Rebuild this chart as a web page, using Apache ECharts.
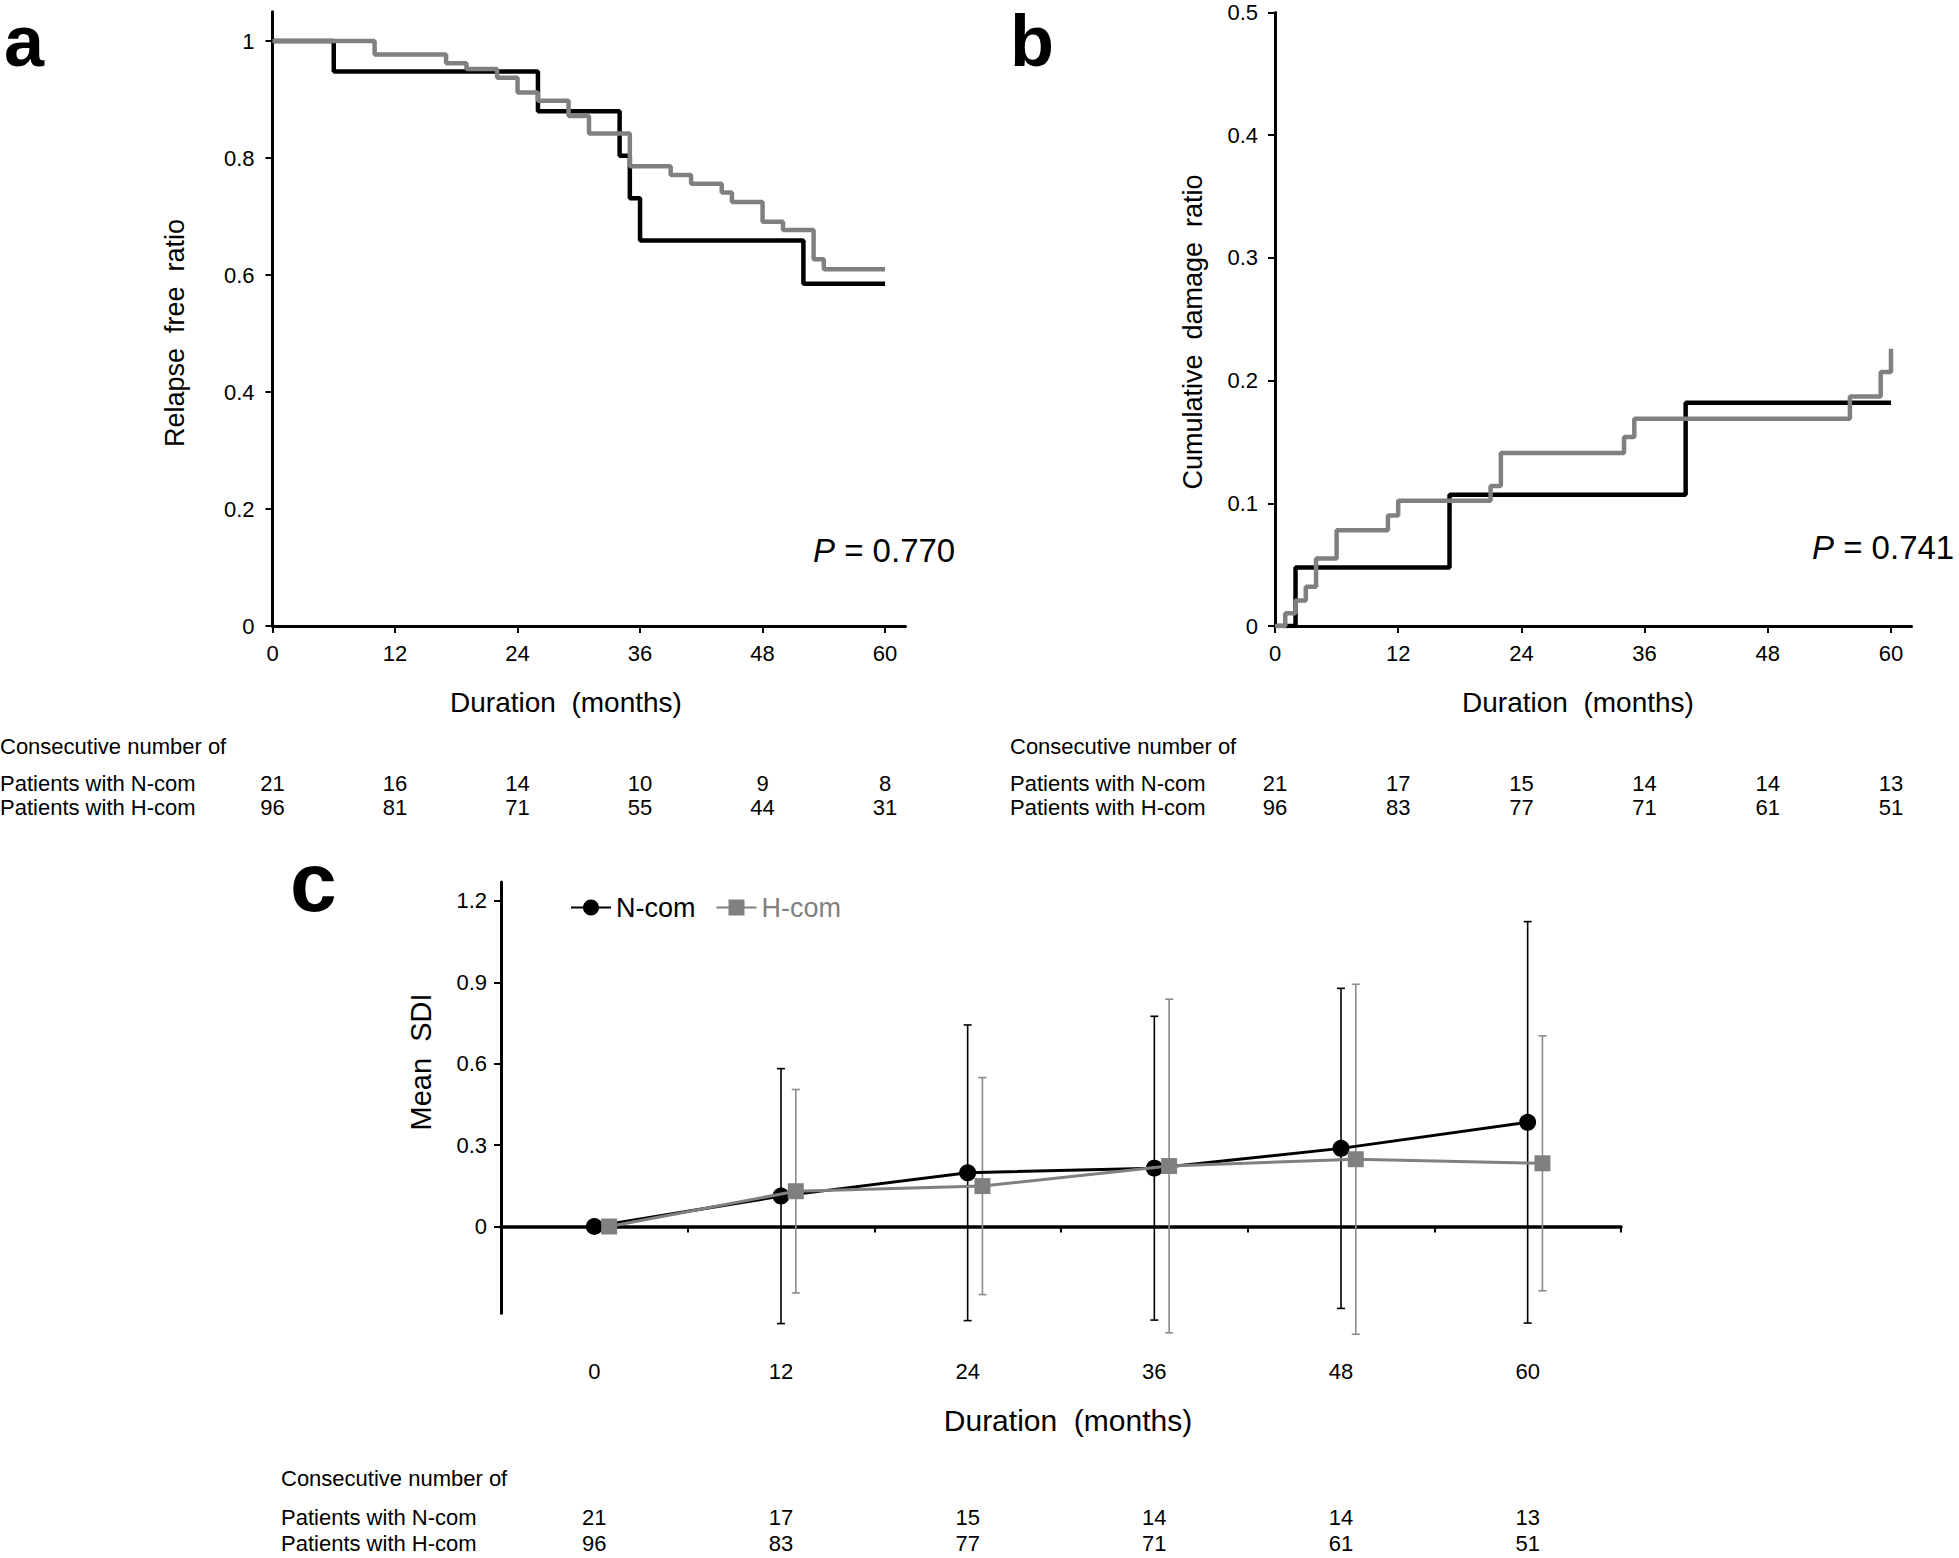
<!DOCTYPE html>
<html>
<head>
<meta charset="utf-8">
<script src="https://cdn.jsdelivr.net/npm/echarts@6/dist/echarts.min.js"></script>
<style>
html,body{margin:0;padding:0;background:#ffffff;}
#chart{width:1959px;height:1558px;}
</style>
</head>
<body>
<div id="chart"></div>
<script>
// ================= DATA =================
const monthTicks = [0, 12, 24, 36, 48, 60];

// Panel a: relapse-free ratio (Kaplan-Meier steps)
const relapseNTime  = [0, 6, 26, 34, 35, 36, 52, 60];
const relapseNValue = [1, 0.948, 0.880, 0.804, 0.731, 0.659, 0.585, 0.585];
const relapseHTime  = [0, 10, 17, 19, 22, 24, 26, 29, 31, 35, 39, 41, 44, 45, 48, 50, 53, 54, 60];
const relapseHValue = [1, 0.977, 0.962, 0.952, 0.937, 0.912, 0.898, 0.872, 0.842, 0.786, 0.771, 0.756, 0.741, 0.725, 0.691, 0.677, 0.627, 0.610, 0.610];
const relapseAtRiskN = [21, 16, 14, 10, 9, 8];
const relapseAtRiskH = [96, 81, 71, 55, 44, 31];
const relapseP = '0.770';

// Panel b: cumulative damage ratio (Kaplan-Meier steps)
const damageNTime  = [0, 2, 17, 40, 60];
const damageNValue = [0, 0.0476, 0.107, 0.182, 0.182];
const damageHTime  = [0, 1, 2, 3, 4, 6, 11, 12, 21, 22, 34, 35, 56, 59, 60];
const damageHValue = [0, 0.0104, 0.0207, 0.032, 0.055, 0.078, 0.090, 0.102, 0.114, 0.141, 0.154, 0.169, 0.187, 0.207, 0.226];
const damageAtRiskN = [21, 17, 15, 14, 14, 13];
const damageAtRiskH = [96, 83, 77, 71, 61, 51];
const damageP = '0.741';

// Panel c: mean SDI with SD error bars
const sdiNMean = [0, 0.112, 0.198, 0.215, 0.288, 0.384];
const sdiNSD   = [0, 0.47, 0.545, 0.56, 0.59, 0.74];
const sdiHMean = [0, 0.130, 0.149, 0.223, 0.248, 0.233];
const sdiHSD   = [0, 0.375, 0.40, 0.615, 0.645, 0.47];
const sdiPMonths = [12, 24, 36, 48, 60];
const sdiP = ['0.509', '0.986', '0.846', '0.741', '0.737'];
const sdiAtRiskN = [21, 17, 15, 14, 14, 13];
const sdiAtRiskH = [96, 83, 77, 71, 61, 51];

// ================= LAYOUT / STYLE =================
const FONT = '"Liberation Sans", Arial, Helvetica, sans-serif';
const BLACK = '#000000';
const GRAY = '#808080';
const GRAY_BAR = '#8c8c8c';
const TICK_FONT = 22;
const TABLE_FONT = 22;
const H_SHIFT = 0.95;               // horizontal offset of H-com markers (months)
const pLabelLevel = [0.715, 0.849, 0.951, 1.015, 1.211]; // label heights (data units)

const zip = (xs, ys) => xs.map((x, i) => [x, ys[i]]);
const fmtNum = v => String(+Number(v).toFixed(2));

function mainX(gridIndex, min, max, tickVals, labelMargin, onZero) {
  return {
    type: 'value', gridIndex, min, max,
    axisLine: { show: true, onZero: !!onZero, lineStyle: { color: BLACK, width: 3 } },
    axisTick: { show: true, customValues: tickVals, length: 7, lineStyle: { color: BLACK, width: 2 } },
    axisLabel: { show: true, customValues: monthTicks, margin: labelMargin, fontSize: TICK_FONT,
                 color: BLACK, fontFamily: FONT, formatter: v => fmtNum(v) },
    splitLine: { show: false }
  };
}
function countX(gridIndex, min, max, counts, margin) {
  return {
    type: 'value', gridIndex, min, max, position: 'bottom',
    axisLine: { show: false, onZero: false }, axisTick: { show: false }, splitLine: { show: false },
    axisLabel: { show: true, customValues: monthTicks, margin, fontSize: TABLE_FONT, color: BLACK,
                 fontFamily: FONT, formatter: v => String(counts[Math.round(v / 12)]) }
  };
}
function mainY(gridIndex, min, max, ticks, margin) {
  return {
    type: 'value', gridIndex, min, max,
    axisLine: { show: true, onZero: false, lineStyle: { color: BLACK, width: 3 } },
    axisTick: { show: true, customValues: ticks, length: 7, lineStyle: { color: BLACK, width: 2 } },
    axisLabel: { show: true, customValues: ticks, margin, fontSize: TICK_FONT, color: BLACK,
                 fontFamily: FONT, formatter: v => fmtNum(v) },
    splitLine: { show: false }
  };
}
function kmLine(name, xi, yi, data, color) {
  return { type: 'line', name, xAxisIndex: xi, yAxisIndex: yi, step: 'end', symbol: 'none',
           data, lineStyle: { color, width: 4.5 }, itemStyle: { color }, silent: true, z: 3 };
}
function errorBars(name, data, color) {
  return {
    type: 'custom', name, xAxisIndex: 6, yAxisIndex: 2, data, z: 1, silent: true,
    encode: { x: 0, y: 1 },
    renderItem: function (params, api) {
      const x = api.value(0), m = api.value(1), s = api.value(2);
      if (!(s > 0)) return null;
      const top = api.coord([x, m + s]);
      const bot = api.coord([x, m - s]);
      const hw = 4;
      const style = { stroke: color, lineWidth: 1.6, fill: null };
      return { type: 'group', children: [
        { type: 'line', shape: { x1: top[0], y1: top[1], x2: bot[0], y2: bot[1] }, style },
        { type: 'line', shape: { x1: top[0] - hw, y1: top[1], x2: top[0] + hw, y2: top[1] }, style },
        { type: 'line', shape: { x1: bot[0] - hw, y1: bot[1], x2: bot[0] + hw, y2: bot[1] }, style }
      ]};
    }
  };
}
function txt(x, y, text, size, opts) {
  opts = opts || {};
  return {
    type: 'text', x, y, rotation: opts.rotation || 0, silent: true,
    style: {
      text, fill: opts.fill || BLACK, fontSize: size, fontFamily: FONT,
      fontWeight: opts.weight || 'normal',
      align: opts.align || 'left', textAlign: opts.align || 'left',
      verticalAlign: 'middle', textVerticalAlign: 'middle',
      rich: opts.rich
    }
  };
}
const pRich = size => ({ i: { fontStyle: 'italic', fontSize: size, fontFamily: FONT, fill: BLACK, color: BLACK } });

// ================= OPTION =================
const option = {
  animation: false,
  backgroundColor: '#ffffff',
  textStyle: { fontFamily: FONT },
  grid: [
    { left: 272.5, top: 11.75, width: 633, height: 614.25 },   // a
    { left: 1275, top: 12.5, width: 636.5, height: 613.5 },    // b
    { left: 501, top: 882, width: 1120, height: 431.3 }        // c
  ],
  xAxis: [
    mainX(0, 0, 62, monthTicks, 16, false),
    countX(0, 0, 62, relapseAtRiskN, 146),
    countX(0, 0, 62, relapseAtRiskH, 170),
    mainX(1, 0, 62, monthTicks, 16, false),
    countX(1, 0, 62, damageAtRiskN, 146),
    countX(1, 0, 62, damageAtRiskH, 170),
    (function () {
      const ax = mainX(2, -6, 66, [6, 18, 30, 42, 54, 66], 47, true);
      ax.axisLine.lineStyle.width = 3.5;
      ax.axisTick.length = 6;
      return ax;
    })(),
    countX(2, -6, 66, sdiAtRiskN, 193),
    countX(2, -6, 66, sdiAtRiskH, 219)
  ],
  yAxis: [
    mainY(0, 0, 1.05, [0, 0.2, 0.4, 0.6, 0.8, 1], 18),
    mainY(1, 0, 0.5, [0, 0.1, 0.2, 0.3, 0.4, 0.5], 17),
    mainY(2, -0.32, 1.27, [0, 0.3, 0.6, 0.9, 1.2], 14)
  ],
  legend: {
    left: 565, top: 889, itemWidth: 40, itemHeight: 20, itemGap: 20,
    selectedMode: false,
    textStyle: { fontSize: 27, fontFamily: FONT },
    data: [
      { name: 'N-com', textStyle: { color: BLACK } },
      { name: 'H-com', textStyle: { color: GRAY } }
    ]
  },
  series: [
    kmLine('N-com relapse', 0, 0, zip(relapseNTime, relapseNValue), BLACK),
    kmLine('H-com relapse', 0, 0, zip(relapseHTime, relapseHValue), GRAY),
    kmLine('N-com damage', 3, 1, zip(damageNTime, damageNValue), BLACK),
    kmLine('H-com damage', 3, 1, zip(damageHTime, damageHValue), GRAY),
    errorBars('N-com SD', monthTicks.map((m, i) => [m, sdiNMean[i], sdiNSD[i]]), BLACK),
    errorBars('H-com SD', monthTicks.map((m, i) => [m + H_SHIFT, sdiHMean[i], sdiHSD[i]]), GRAY_BAR),
    {
      type: 'line', name: 'N-com', xAxisIndex: 6, yAxisIndex: 2,
      data: monthTicks.map((m, i) => [m, sdiNMean[i]]),
      symbol: 'circle', symbolSize: 17, showAllSymbol: true,
      lineStyle: { color: BLACK, width: 3 }, itemStyle: { color: BLACK }, z: 3
    },
    {
      type: 'line', name: 'H-com', xAxisIndex: 6, yAxisIndex: 2,
      data: monthTicks.map((m, i) => [m + H_SHIFT, sdiHMean[i]]),
      symbol: 'rect', symbolSize: 16, showAllSymbol: true,
      lineStyle: { color: GRAY, width: 3 }, itemStyle: { color: GRAY }, z: 4
    },
    {
      type: 'scatter', name: 'P values', xAxisIndex: 6, yAxisIndex: 2, silent: true,
      data: sdiPMonths.map((m, i) => [m, pLabelLevel[i]]),
      symbol: 'circle', symbolSize: 1, itemStyle: { opacity: 0 },
      label: {
        show: true, position: 'inside', color: BLACK, fontSize: 18, fontFamily: FONT,
        formatter: p => '{i|P} = ' + sdiP[p.dataIndex],
        rich: { i: { fontStyle: 'italic', fontSize: 18, fontFamily: FONT, color: BLACK } }
      }, z: 5
    }
  ],
  graphic: [
    // panel letters
    txt(4, 41, 'a', 72, { weight: 'bold' }),
    txt(1010, 41, 'b', 72, { weight: 'bold' }),
    txt(290, 882, 'c', 84, { weight: 'bold' }),
    // axis titles
    txt(175, 333, 'Relapse  free  ratio', 27, { align: 'center', rotation: Math.PI / 2 }),
    txt(566, 702, 'Duration  (months)', 28, { align: 'center' }),
    txt(1193, 332, 'Cumulative  damage  ratio', 27, { align: 'center', rotation: Math.PI / 2 }),
    txt(1578, 702, 'Duration  (months)', 28, { align: 'center' }),
    txt(421, 1062, 'Mean  SDI', 29, { align: 'center', rotation: Math.PI / 2 }),
    txt(1068, 1420, 'Duration  (months)', 30, { align: 'center' }),
    // P values
    txt(813, 550, '{i|P} = ' + relapseP, 33, { rich: pRich(33) }),
    txt(1812, 547, '{i|P} = ' + damageP, 33, { rich: pRich(33) }),
    // table row titles
    txt(0, 746, 'Consecutive number of', TABLE_FONT),
    txt(0, 783, 'Patients with N-com', TABLE_FONT),
    txt(0, 807, 'Patients with H-com', TABLE_FONT),
    txt(1010, 746, 'Consecutive number of', TABLE_FONT),
    txt(1010, 783, 'Patients with N-com', TABLE_FONT),
    txt(1010, 807, 'Patients with H-com', TABLE_FONT),
    txt(281, 1478, 'Consecutive number of', TABLE_FONT),
    txt(281, 1517, 'Patients with N-com', TABLE_FONT),
    txt(281, 1543, 'Patients with H-com', TABLE_FONT)
  ]
};

const chart = echarts.init(document.getElementById('chart'), null, { renderer: 'svg', width: 1959, height: 1558 });
chart.setOption(option);
</script>
</body>
</html>
